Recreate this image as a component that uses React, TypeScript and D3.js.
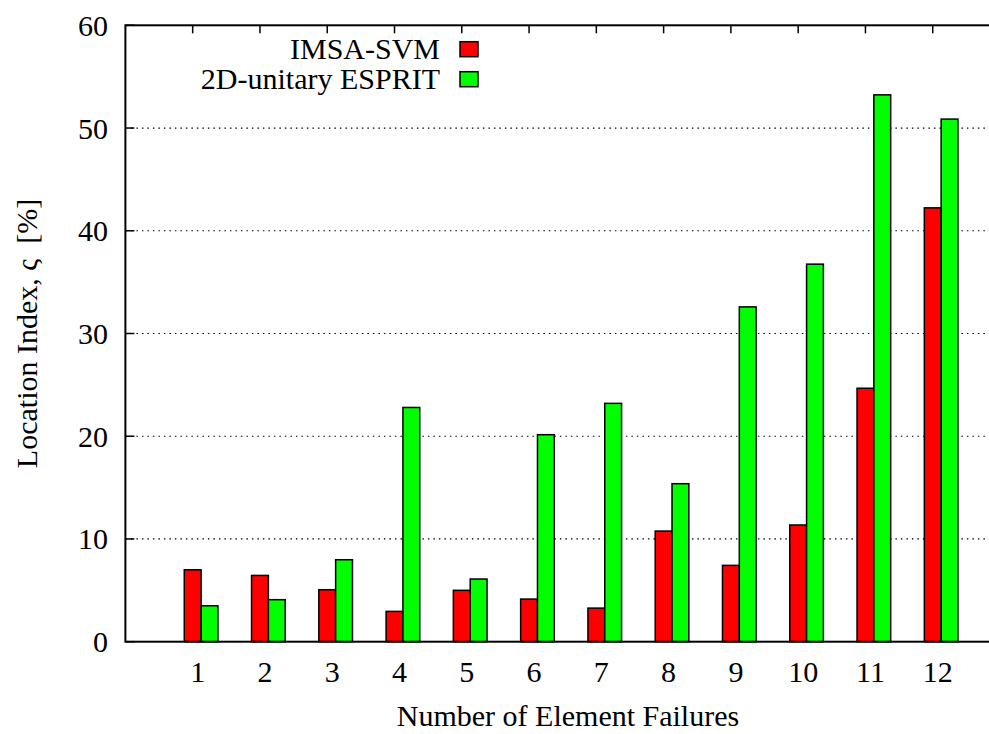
import React from "react";
import * as d3 from "d3";

const categories = ["1", "2", "3", "4", "5", "6", "7", "8", "9", "10", "11", "12"];
const imsaSvm = [7.0, 6.45, 5.06, 2.95, 5.0, 4.15, 3.27, 10.77, 7.43, 11.36, 24.67, 42.23];
const esprit = [3.5, 4.09, 7.98, 22.8, 6.1, 20.15, 23.2, 15.38, 32.59, 36.75, 53.23, 50.87];
const seriesNames = ["IMSA-SVM", "2D-unitary ESPRIT"];
const seriesColors = ["#ff0000", "#00ff00"];
const yTicks = [0, 10, 20, 30, 40, 50, 60];

const W = 989;
const H = 734;
const FONT = "'Liberation Serif', 'Times New Roman', serif";
const FS = 30;

export default function App() {
  const x = d3.scaleLinear().domain([0, 13]).range([125.4, 1000]);
  const y = d3.scaleLinear().domain([0, 60]).range([641.7, 25.3]);
  const bw = x(0.25) - x(0);
  const left = x(0);
  const right = x(13);
  const top = y(60);
  const bottom = y(0);
  const series = [imsaSvm, esprit];

  return (
    <svg width={W} height={H} style={{ position: "absolute", left: 0, top: 0, background: "#fff" }}>
      <defs>
        <clipPath id="clip">
          <rect x={0} y={0} width={W} height={H} />
        </clipPath>
      </defs>
      <g clipPath="url(#clip)">
        {yTicks.filter((t) => t > 0 && t < 60).map((t) => (
          <line key={"g" + t} x1={left} x2={right} y1={y(t)} y2={y(t)} stroke="#000" strokeWidth={1.2} strokeDasharray="1.5,4" />
        ))}
        {yTicks.map((t) => (
          <g key={"yt" + t}>
            <line x1={left} x2={left + 9} y1={y(t)} y2={y(t)} stroke="#000" strokeWidth={1.5} />
            <text x={108} y={y(t) + 10.5} textAnchor="end" fontFamily={FONT} fontSize={FS} fill="#000">{t}</text>
          </g>
        ))}
        {categories.map((c, i) => (
          <line key={"tt" + c} x1={x(i + 1)} x2={x(i + 1)} y1={top} y2={top + 8} stroke="#000" strokeWidth={1.5} />
        ))}
        {series.map((vals, s) => (
          <g key={"s" + s}>
            {vals.map((v, i) => {
              const cx = x(i + 1) - bw / 2 + s * bw;
              return (
                <rect key={i} x={cx} y={y(v)} width={bw} height={bottom - y(v)} fill={seriesColors[s]} stroke="#000" strokeWidth={1.5} />
              );
            })}
          </g>
        ))}
        {categories.map((c, i) => (
          <text key={"xl" + c} x={x(i + 1) + 5} y={682} textAnchor="middle" fontFamily={FONT} fontSize={FS} fill="#000">{c}</text>
        ))}
        <rect x={left} y={top} width={right - left} height={bottom - top} fill="none" stroke="#000" strokeWidth={2} />
        {seriesNames.map((n, k) => (
          <g key={"lg" + k}>
            <text x={440} y={59 + k * 30} textAnchor="end" fontFamily={FONT} fontSize={FS} fill="#000">{n}</text>
            <rect x={460} y={41.7 + k * 30} width={18} height={15} fill={seriesColors[k]} stroke="#000" strokeWidth={1.5} />
          </g>
        ))}
        <text x={568} y={726} textAnchor="middle" fontFamily={FONT} fontSize={FS} fill="#000">Number of Element Failures</text>
        <text transform={`translate(37, ${(top + bottom) / 2}) rotate(-90)`} textAnchor="middle" fontFamily={FONT} fontSize={FS} fill="#000">{"Location Index, ς\u00a0\u00a0[%]"}</text>
      </g>
    </svg>
  );
}
